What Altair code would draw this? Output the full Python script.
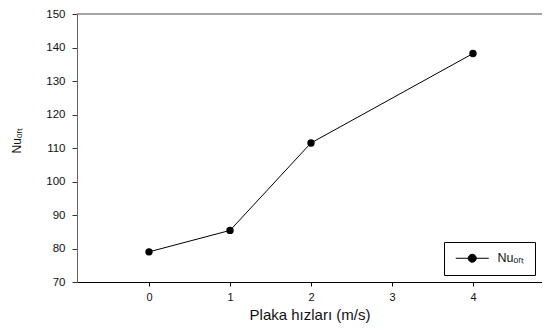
import altair as alt
import pandas as pd

# Data
speeds = [0, 1, 2, 4]
nu_ort = [79.0, 85.4, 111.5, 138.2]
series_name = "Nuₒᵣₜ"
x_ticks = [0, 1, 2, 3, 4]
y_ticks = [70, 80, 90, 100, 110, 120, 130, 140, 150]
x_title = "Plaka hızları (m/s)"
y_title = "Nuₒᵣₜ"

df = pd.DataFrame({"speed": speeds, "nu": nu_ort, "series": [series_name] * len(speeds)})
top_df = pd.DataFrame({"nu": [y_ticks[-1]]})

FONT = "Liberation Sans"
xscale = alt.Scale(domain=[-0.889, 4.852], nice=False, zero=False)
yscale = alt.Scale(domain=[70, 150], nice=False, zero=False)

x_enc = alt.X(
    "speed:Q",
    scale=xscale,
    axis=alt.Axis(
        values=x_ticks, format="d", grid=False,
        domainColor="black", tickColor="black", tickSize=4,
        labelFont=FONT, labelFontSize=11, labelColor="#111", labelPadding=5,
        title=x_title, titleFont=FONT, titleFontSize=15, titleFontWeight="normal",
        titleColor="#111", titlePadding=5,
    ),
)
y_axis = alt.Axis(
    values=y_ticks, grid=False,
    domainColor="#666", tickColor="#333", tickSize=5,
    labelFont=FONT, labelFontSize=11.5, labelColor="#111", labelPadding=7,
    title=y_title, titleFont=FONT, titleFontSize=12, titleFontWeight="normal",
    titleColor="#111", titleX=-61, titleY=126, titleAngle=270,
    titleAlign="center", titleBaseline="middle",
)
y_enc = alt.Y("nu:Q", scale=yscale, axis=y_axis)

symbol_path = "M-3.3,0L3.3,0M-0.8,0A0.8,0.8,0,1,1,0.8,0A0.8,0.8,0,1,1,-0.8,0Z"

line = alt.Chart(df).mark_line(color="black", strokeWidth=1).encode(x=x_enc, y=y_enc)
points = alt.Chart(df).mark_point(filled=True, size=55, opacity=1).encode(
    x=x_enc,
    y=y_enc,
    color=alt.Color(
        "series:N",
        scale=alt.Scale(range=["black"]),
        legend=alt.Legend(
            title=None, orient="none", legendX=367, legendY=228,
            strokeColor="black", fillColor="white", padding=10, cornerRadius=0,
            symbolType=symbol_path, symbolSize=100, symbolStrokeWidth=1,
            symbolStrokeColor="black", symbolFillColor="black", symbolOffset=12,
            labelFont=FONT, labelFontSize=12.5, labelColor="#111", labelOffset=19,
            labelExpr="datum.label + '\u00a0\u00a0\u00a0\u00a0'",
        ),
    ),
)
top_rule = alt.Chart(top_df).mark_rule(color="#888", strokeWidth=1.5).encode(y=y_enc)

chart = (
    alt.layer(top_rule, line, points)
    .properties(
        width=465, height=268,
        autosize=alt.AutoSizeParams(type="none"),
        padding={"left": 69, "top": 6, "right": 0, "bottom": 42},
    )
    .configure_view(stroke=None)
)

chart.save("out.html", embed_options={"renderer": "svg", "actions": False})
